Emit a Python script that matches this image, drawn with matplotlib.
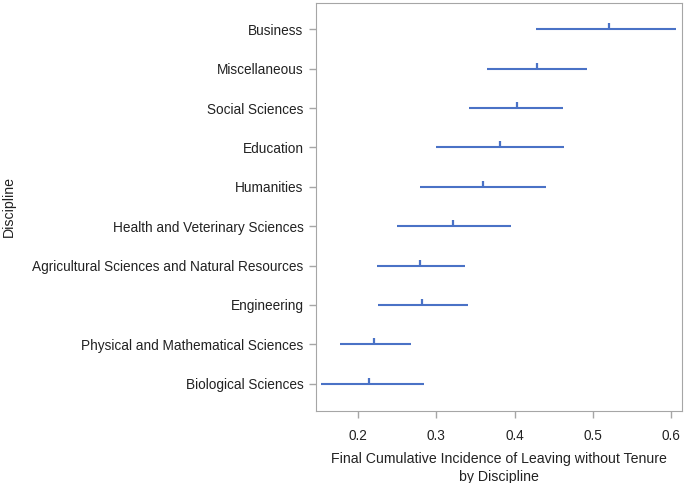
import matplotlib.pyplot as plt
from matplotlib.ticker import MultipleLocator

plt.rcParams['font.family'] = ['Liberation Sans', 'DejaVu Sans']

# bottom to top
disciplines = ['Biological Sciences', 'Physical and Mathematical Sciences', 'Engineering',
               'Agricultural Sciences and Natural Resources', 'Health and Veterinary Sciences',
               'Humanities', 'Education', 'Social Sciences', 'Miscellaneous', 'Business']
estimate = [0.214, 0.2205, 0.2815, 0.279, 0.321, 0.3595, 0.3816, 0.4026, 0.429, 0.5206]
lower = [0.152, 0.1766, 0.2256, 0.2235, 0.2494, 0.279, 0.300, 0.3416, 0.365, 0.427]
upper = [0.2836, 0.268, 0.340, 0.3364, 0.395, 0.440, 0.463, 0.462, 0.492, 0.606]

blue = '#4a72c6'
grey = '#a6a6a6'

fig = plt.figure(figsize=(6.85, 4.83), dpi=100)
ax = fig.add_axes([0.4613, 0.1497, 0.5339, 0.8441])

ypos = list(range(len(disciplines)))
ax.hlines(ypos, lower, upper, color=blue, lw=1.5)
# estimate tick drawn upward from the interval line
ax.plot(estimate, ypos, ls='none', marker=[(0, 0), (0, 1)], markersize=8,
        markeredgewidth=1.6, color=blue)

ax.set_xlim(0.146, 0.6137)
ax.set_ylim(-0.685, 9.67)
ax.xaxis.set_major_locator(MultipleLocator(0.1))
ax.set_yticks(ypos)
ax.set_yticklabels(disciplines)

for s in ax.spines.values():
    s.set_color(grey)
ax.tick_params(axis='both', colors=grey, labelcolor='#222222', length=5, width=1,
               labelsize=9.8, direction='out')
ax.tick_params(axis='x', pad=8)
ax.tick_params(axis='y', pad=4)

ax.set_xlabel('Final Cumulative Incidence of Leaving without Tenure\nby Discipline',
              fontsize=10.2, color='#222222', labelpad=7, linespacing=1.3)
ax.set_ylabel('Discipline', fontsize=10.2, color='#222222')
ax.yaxis.set_label_coords(-0.82, 0.5)

fig.savefig('out.png', dpi=100)
